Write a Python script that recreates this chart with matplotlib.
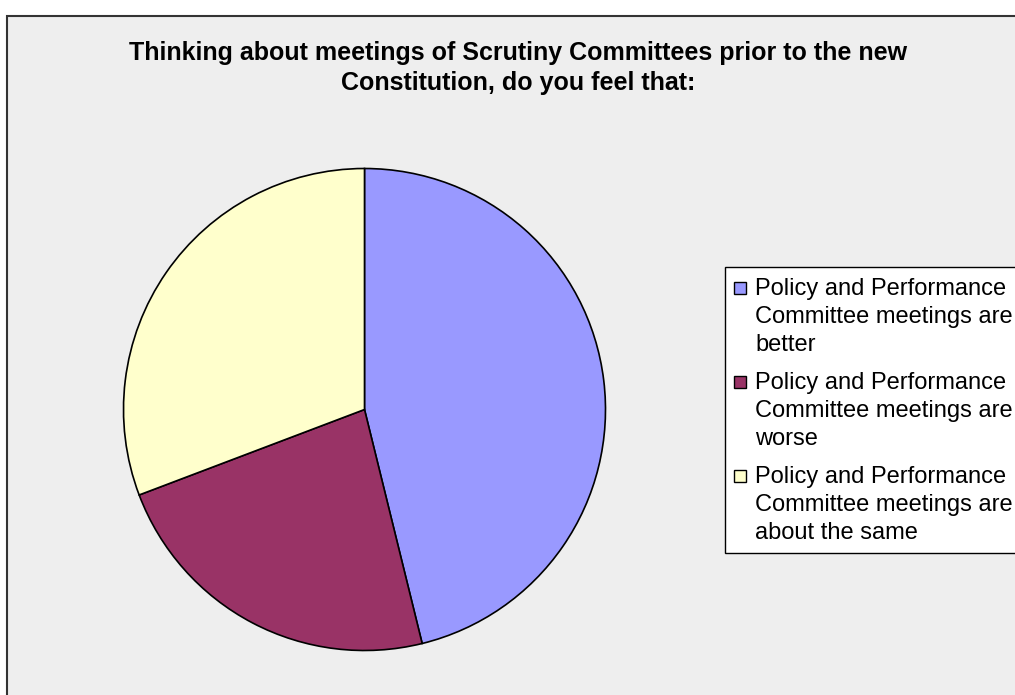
import matplotlib
matplotlib.use("Agg")
import matplotlib.pyplot as plt
from matplotlib.patches import Rectangle

# Survey answers (number of respondents)
labels = [
    "Policy and Performance\nCommittee meetings are\nbetter",
    "Policy and Performance\nCommittee meetings are\nworse",
    "Policy and Performance\nCommittee meetings are\nabout the same",
]
counts = [6, 3, 4]
colors = ["#9999FF", "#993366", "#FFFFCC"]
title = ("Thinking about meetings of Scrutiny Committees prior to the new\n"
         "Constitution, do you feel that:")

W, H = 1015, 695
fig = plt.figure(figsize=(W / 100, H / 100), dpi=100)
plt.rcParams["font.family"] = ["Liberation Sans", "DejaVu Sans"]

# full-figure axes in pixel units for the chart area, title and legend
bg = fig.add_axes([0, 0, 1, 1])
bg.set_xlim(0, W)
bg.set_ylim(H, 0)
bg.axis("off")
bg.add_patch(Rectangle((7, 16), W + 20, H + 20, facecolor="#EEEEEE",
                       edgecolor="#333333", lw=1.5))

bg.text(518.5, 41, title, ha="center", va="top", fontsize=18,
        fontweight="bold", linespacing=1.33)

# pie axes: centre (364.5, 409.5) px, radius 241 px
cx, cy, r = 364.5, 409.5, 241
pie_ax = fig.add_axes([(cx - r) / W, (H - cy - r) / H, 2 * r / W, 2 * r / H])
pie_ax.pie(counts, colors=colors, startangle=90, counterclock=False,
           wedgeprops=dict(edgecolor="black", linewidth=1.2))
pie_ax.set_xlim(-1, 1)
pie_ax.set_ylim(-1, 1)
pie_ax.patch.set_visible(False)

# legend box
bg.add_patch(Rectangle((725, 267), 400, 286, facecolor="white",
                       edgecolor="black", lw=1.0))
y0 = 288
for i, (lab, col) in enumerate(zip(labels, colors)):
    y = y0 + i * 94
    bg.add_patch(Rectangle((734, y - 6), 12, 12, facecolor=col,
                           edgecolor="black", lw=1.0))
    bg.text(755, y - 10, lab, ha="left", va="top", fontsize=17,
            linespacing=1.36)

fig.savefig("out.png", dpi=100)
